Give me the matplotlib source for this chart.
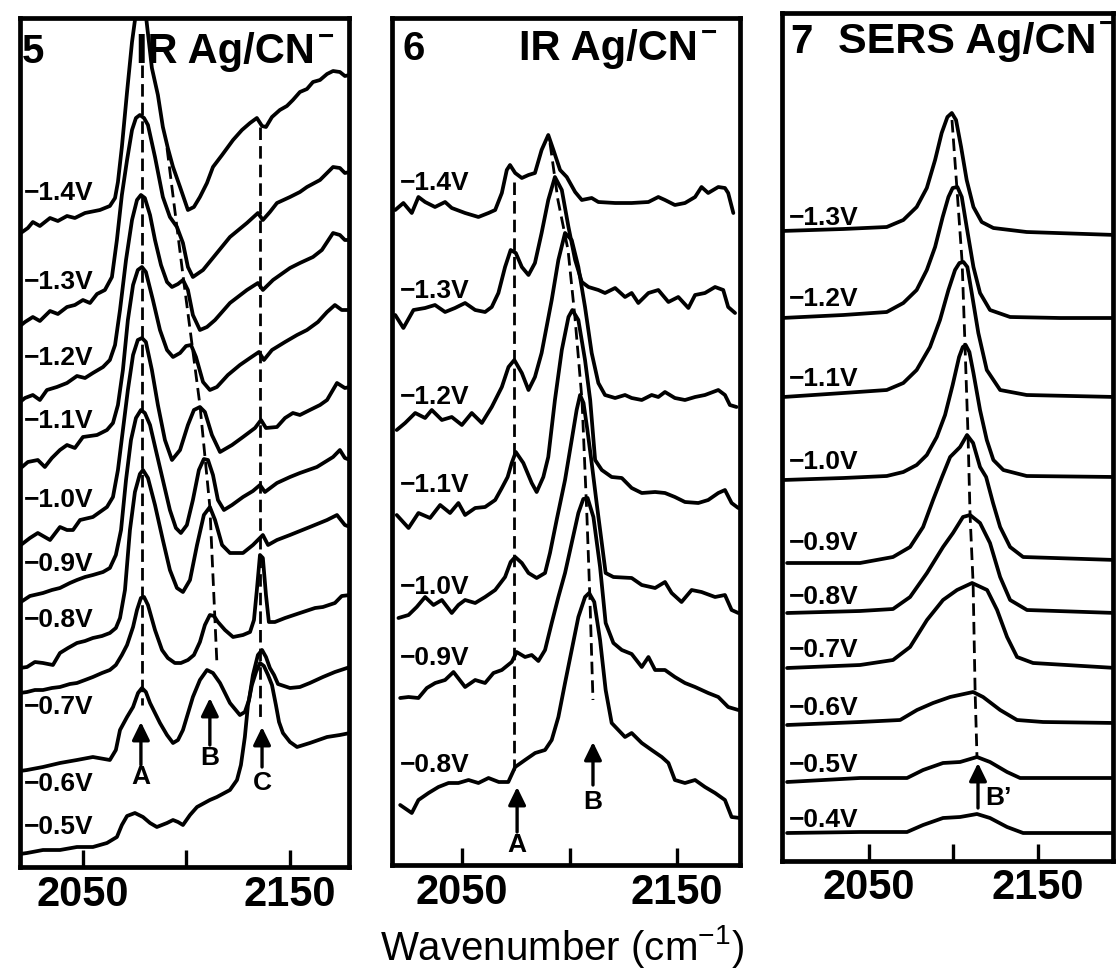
import matplotlib
matplotlib.use("Agg")
import matplotlib.pyplot as plt

plt.rcParams['font.family'] = ['Liberation Sans', 'DejaVu Sans']
plt.rcParams['mathtext.fontset'] = 'custom'
plt.rcParams['mathtext.rm'] = 'Liberation Sans'
plt.rcParams['mathtext.it'] = 'Liberation Sans:italic'
plt.rcParams['mathtext.bf'] = 'Liberation Sans:bold'

# ---------------- data (wavenumber cm-1, stacked intensity, arbitrary units) -------------
TICKS = [2050, 2100, 2150]
TICK_LABELS = ['2050', '', '2150']

# Panel 5: IR Ag/CN-
P5_VOLTS = ['−1.4V', '−1.3V', '−1.2V', '−1.1V', '−1.0V', '−0.9V', '−0.8V', '−0.7V', '−0.6V', '−0.5V']
P5_LABEL_H = [674, 585, 509, 446, 367, 303, 247, 160, 83, 40]
P5_M14 = [(2020.0,634),(2023.4,639),(2025.8,645),(2029.2,641),(2034.1,649),(2037.9,646),(2042.3,651),(2046.1,649),(2051.0,654),(2058.2,657),(2063.0,661),(2065.5,669),(2066.9,685),(2068.8,720),(2071.3,775),(2073.7,825),(2076.5,868),(2079.5,868),(2083.3,799),(2086.2,772),(2088.6,740),(2091.0,719),(2093.5,700),(2096.9,680),(2100.7,657),(2103.6,660),(2106.5,670),(2109.9,684),(2112.8,700),(2117.2,712),(2122.5,727),(2126.8,737),(2130.7,744),(2134.0,749),(2136.5,741),(2138.4,740),(2141.3,750),(2145.1,757),(2148.5,761),(2151.4,767),(2154.8,775),(2158.2,778),(2161.1,785),(2164.5,787),(2167.9,793),(2170.8,796),(2174.1,795),(2176.5,791),(2179.0,792)]
P5_M13 = [(2019.0,540),(2022.0,545),(2025.8,550),(2029.2,546),(2034.1,556),(2037.9,553),(2042.3,560),(2046.1,562),(2050.0,567),(2053.4,564),(2056.8,573),(2060.6,577),(2064.0,590),(2066.4,627),(2068.8,672),(2071.3,707),(2073.7,737),(2075.6,749),(2077.5,752),(2079.5,749),(2081.4,742),(2084.8,710),(2088.6,670),(2092.0,650),(2095.4,640),(2098.3,624),(2100.7,600),(2103.1,590),(2108.0,597),(2114.7,614),(2121.0,630),(2129.2,644),(2134.5,654),(2136.9,647),(2140.3,655),(2143.7,664),(2150.0,670),(2154.8,675),(2158.2,680),(2164.5,687),(2170.8,700),(2174.1,699),(2176.5,694),(2179.0,695)]
P5_M12 = [(2019.0,464),(2022.0,469),(2025.8,472),(2029.2,467),(2032.6,477),(2037.4,480),(2042.3,484),(2047.1,491),(2051.0,489),(2054.8,494),(2059.7,500),(2063.0,507),(2065.5,522),(2067.9,557),(2070.8,607),(2073.7,647),(2076.1,667),(2078.0,672),(2079.9,669),(2082.4,652),(2084.8,627),(2087.7,602),(2090.6,585),(2093.0,580),(2095.9,583),(2098.3,587),(2100.7,577),(2103.1,552),(2106.5,537),(2109.9,540),(2113.8,547),(2121.0,564),(2129.2,577),(2134.5,584),(2136.9,577),(2141.8,587),(2150.0,599),(2154.8,604),(2161.1,610),(2165.4,617),(2170.8,634),(2174.1,632),(2176.5,627),(2179.0,627)]
P5_M11 = [(2020.0,399),(2023.4,405),(2028.2,407),(2031.6,400),(2035.0,409),(2038.9,417),(2042.3,422),(2046.1,419),(2050.0,430),(2056.8,432),(2061.6,437),(2064.5,444),(2066.9,462),(2069.3,497),(2071.7,547),(2074.2,582),(2076.5,597),(2078.5,600),(2080.4,595),(2083.8,567),(2087.2,537),(2090.6,517),(2093.5,510),(2096.9,514),(2099.8,521),(2102.2,522),(2104.6,510),(2108.0,485),(2111.3,477),(2114.7,480),(2120.0,492),(2125.8,502),(2130.7,509),(2135.0,515),(2137.4,507),(2141.3,517),(2147.6,525),(2153.4,532),(2158.2,537),(2163.5,545),(2167.9,555),(2171.7,562),(2175.0,557),(2179.0,557)]
P5_M10 = [(2020.0,322),(2024.4,329),(2028.2,334),(2034.1,327),(2038.9,340),(2042.3,337),(2045.2,337),(2048.6,347),(2054.8,350),(2058.2,355),(2061.6,360),(2064.5,370),(2066.9,397),(2069.3,437),(2071.7,477),(2074.2,512),(2076.5,527),(2078.5,529),(2080.4,525),(2083.3,497),(2086.2,462),(2089.6,427),(2093.0,407),(2096.9,417),(2100.7,442),(2103.6,457),(2106.5,460),(2108.9,455),(2112.3,432),(2116.2,415),(2122.0,422),(2127.3,430),(2133.1,439),(2136.0,447),(2138.4,439),(2143.7,440),(2147.6,449),(2151.4,454),(2154.8,452),(2159.6,457),(2164.5,462),(2167.9,467),(2172.7,484),(2176.5,479),(2179.0,480)]
P5_M09 = [(2020.0,265),(2024.4,271),(2030.7,274),(2035.0,277),(2038.9,279),(2043.7,284),(2047.1,287),(2051.0,290),(2054.8,292),(2059.7,295),(2063.0,299),(2065.9,312),(2068.4,337),(2070.8,387),(2073.2,427),(2075.6,449),(2078.0,457),(2079.9,454),(2082.4,442),(2085.2,417),(2088.6,387),(2092.0,357),(2094.9,339),(2097.3,334),(2100.2,342),(2103.1,367),(2106.0,397),(2108.4,408),(2110.4,407),(2112.8,392),(2115.2,367),(2118.1,357),(2122.0,362),(2127.3,370),(2132.1,376),(2135.5,382),(2137.9,375),(2143.7,384),(2150.0,390),(2154.8,394),(2163.0,400),(2170.8,410),(2174.1,417),(2176.5,409),(2179.0,407)]
P5_M08 = [(2019.6,199),(2023.0,200),(2026.8,205),(2030.7,204),(2035.5,202),(2038.9,214),(2042.8,219),(2047.1,224),(2051.0,226),(2054.8,229),(2059.2,231),(2063.0,234),(2065.9,239),(2067.9,249),(2070.3,277),(2072.7,337),(2075.1,375),(2077.5,393),(2079.0,397),(2081.4,389),(2084.8,362),(2088.6,327),(2092.0,297),(2095.4,279),(2098.3,275),(2101.7,287),(2105.1,322),(2108.4,352),(2111.3,360),(2113.8,347),(2117.2,322),(2121.0,314),(2127.3,314),(2132.1,322),(2136.9,332),(2139.4,322),(2143.7,327),(2150.0,332),(2159.6,340),(2167.9,347),(2172.7,352),(2176.5,342),(2179.0,340)]
P5_M07 = [(2019.6,174),(2023.0,175),(2026.8,177),(2030.7,177),(2035.0,179),(2038.9,180),(2043.7,183),(2047.1,184),(2051.0,187),(2054.8,190),(2059.2,194),(2063.0,197),(2065.9,202),(2068.8,212),(2071.3,222),(2074.2,240),(2076.1,257),(2078.0,269),(2079.5,270),(2081.4,262),(2084.8,237),(2088.2,217),(2091.0,209),(2094.4,204),(2097.3,204),(2100.7,207),(2103.6,212),(2106.5,225),(2108.9,242),(2111.3,252),(2113.3,251),(2115.2,245),(2118.6,237),(2122.5,230),(2127.3,232),(2130.7,235),(2132.6,247),(2134.0,277),(2135.5,312),(2136.9,309),(2138.4,272),(2139.8,245),(2142.7,245),(2147.6,249),(2154.8,254),(2162.1,259),(2165.9,260),(2171.7,264),(2175.0,271),(2179.0,272)]
P5_M06 = [(2019.6,96),(2023.0,97),(2030.7,100),(2038.9,104),(2047.1,107),(2054.8,110),(2063.0,107),(2065.9,117),(2067.9,137),(2071.3,150),(2074.2,160),(2076.6,174),(2078.5,179),(2080.4,175),(2082.4,164),(2087.2,144),(2090.6,132),(2093.5,124),(2095.9,127),(2098.3,137),(2103.1,170),(2106.5,187),(2109.9,197),(2112.8,194),(2116.2,184),(2121.0,164),(2125.8,152),(2128.2,155),(2130.2,167),(2132.1,192),(2134.5,212),(2136.5,217),(2138.4,210),(2140.3,199),(2142.3,192),(2144.2,183),(2150.0,179),(2154.8,180),(2159.6,184),(2165.9,190),(2171.7,195),(2179.0,200)]
P5_M05 = [(2019.6,13),(2023.0,14),(2030.7,17),(2038.9,17),(2047.1,20),(2054.8,20),(2061.6,24),(2066.4,30),(2068.8,42),(2071.3,51),(2075.1,54),(2079.0,50),(2082.4,44),(2085.7,40),(2090.6,44),(2093.5,47),(2095.9,45),(2098.3,42),(2101.7,52),(2105.1,60),(2111.3,67),(2114.7,70),(2121.0,77),(2124.4,87),(2126.3,102),(2128.2,130),(2129.7,162),(2131.6,182),(2133.6,195),(2135.5,204),(2137.4,201),(2139.4,192),(2141.3,182),(2143.2,162),(2144.7,145),(2146.6,134),(2150.0,125),(2153.4,120),(2159.6,124),(2167.9,130),(2174.1,132),(2179.0,134)]
P5_TRACES = [P5_M14, P5_M13, P5_M12, P5_M11, P5_M10, P5_M09, P5_M08, P5_M07, P5_M06, P5_M05]
P5_PEAK_A_WN, P5_PEAK_A_H = [2078.3, 2078.3], [802, 162]
P5_PEAK_B_WN, P5_PEAK_B_H = [2090.6, 2098.3, 2106.5, 2111.3, 2114.7], [719, 592, 462, 360, 204]
P5_PEAK_C_WN, P5_PEAK_C_H = [2135.5, 2135.5], [740, 147]
P5_ARROWS = [('A', 2078.0, 145, 102, 90), ('B', 2111.3, 169, 122, 109), ('C', 2136.5, 140, 100, 84)]

# Panel 6: IR Ag/CN-
P6_VOLTS = ['−1.4V', '−1.3V', '−1.2V', '−1.1V', '−1.0V', '−0.9V', '−0.8V']
P6_LABEL_H = [682, 574, 468, 380, 278, 207, 100]
P6_M14 = [(2018.9,655),(2022.7,662),(2026.6,652),(2029.7,668),(2032.8,663),(2037.4,658),(2042.1,663),(2045.2,657),(2051.4,652),(2057.6,648),(2062.3,652),(2065.4,655),(2068.5,672),(2070.8,695),(2072.3,700),(2074.7,692),(2077.8,687),(2080.9,690),(2083.9,692),(2087.0,715),(2090.1,730),(2092.5,715),(2095.6,695),(2098.7,688),(2102.6,673),(2105.7,665),(2110.3,667),(2113.4,663),(2121.2,662),(2128.9,662),(2136.7,663),(2141.3,668),(2144.4,665),(2149.0,660),(2153.7,662),(2158.4,668),(2161.4,678),(2164.5,672),(2169.2,678),(2172.3,677),(2173.8,672),(2176.2,652)]
P6_M13 = [(2018.9,550),(2022.7,537),(2027.4,555),(2032.8,557),(2037.4,560),(2042.1,553),(2046.7,557),(2051.4,562),(2056.1,555),(2060.7,553),(2063.8,558),(2066.9,572),(2070.0,598),(2072.6,615),(2075.0,612),(2077.8,598),(2080.9,590),(2083.9,602),(2087.0,632),(2090.1,665),(2093.2,688),(2096.4,675),(2099.5,638),(2102.6,605),(2105.7,583),(2108.8,578),(2113.4,575),(2116.5,572),(2121.2,577),(2125.8,568),(2128.9,572),(2132.0,562),(2136.7,572),(2141.3,575),(2146.0,563),(2150.6,568),(2155.3,557),(2158.4,570),(2163.0,572),(2167.7,578),(2171.5,575),(2173.8,558),(2177.0,552)]
P6_M12 = [(2019.6,435),(2023.5,442),(2028.2,452),(2032.8,447),(2035.9,455),(2040.6,445),(2045.2,448),(2049.9,440),(2054.5,452),(2059.2,442),(2063.8,458),(2068.5,478),(2071.6,498),(2074.3,505),(2077.8,492),(2080.9,475),(2083.9,488),(2087.0,512),(2091.7,565),(2094.8,605),(2097.9,632),(2101.0,625),(2104.1,598),(2107.2,558),(2110.3,512),(2113.4,482),(2116.5,470),(2121.2,467),(2125.8,470),(2128.9,467),(2133.6,465),(2138.2,470),(2141.3,468),(2144.4,473),(2149.0,467),(2153.7,465),(2158.4,468),(2163.0,470),(2169.2,475),(2172.3,470),(2174.6,460),(2177.7,458)]
P6_M11 = [(2019.6,350),(2025.1,337),(2029.7,352),(2035.1,347),(2039.8,360),(2044.4,352),(2048.3,362),(2051.4,350),(2056.1,357),(2060.7,358),(2065.4,365),(2068.5,377),(2071.2,388),(2073.1,402),(2075.0,413),(2078.5,402),(2082.4,382),(2084.7,373),(2087.8,388),(2090.1,408),(2093.2,465),(2096.4,515),(2099.5,548),(2101.3,555),(2104.1,545),(2107.2,505),(2109.6,465),(2111.9,405),(2115.0,395),(2119.6,388),(2124.3,387),(2128.9,377),(2133.6,372),(2139.8,373),(2144.4,372),(2149.0,368),(2153.7,363),(2159.9,362),(2164.5,365),(2169.2,372),(2172.3,375),(2175.4,362),(2178.5,357)]
P6_M10 = [(2020.4,247),(2025.1,250),(2028.9,258),(2032.8,268),(2036.7,260),(2040.6,265),(2045.2,252),(2048.3,260),(2051.4,265),(2056.1,262),(2060.7,268),(2065.4,275),(2070.0,288),(2072.6,303),(2074.7,308),(2077.8,302),(2080.9,292),(2084.7,287),(2088.6,292),(2090.9,312),(2094.0,345),(2097.9,385),(2101.0,425),(2103.3,455),(2104.9,470),(2106.5,462),(2108.3,435),(2110.3,402),(2112.6,362),(2115.0,322),(2116.8,292),(2120.4,288),(2128.9,287),(2133.6,280),(2139.8,277),(2144.4,283),(2147.5,272),(2152.1,263),(2156.8,275),(2161.4,273),(2167.7,268),(2172.3,270),(2175.4,255),(2178.5,252)]
P6_M09 = [(2021.2,167),(2025.1,168),(2029.7,167),(2033.6,177),(2037.5,182),(2042.1,185),(2046.0,193),(2051.4,178),(2056.1,185),(2060.7,182),(2064.6,192),(2068.5,195),(2073.1,203),(2075.4,213),(2079.3,208),(2082.4,210),(2085.5,204),(2088.6,215),(2091.7,242),(2094.8,268),(2097.9,292),(2101.0,322),(2104.1,352),(2106.4,366),(2108.4,367),(2111.1,348),(2114.2,298),(2116.8,242),(2120.4,222),(2124.3,215),(2128.9,211),(2133.6,198),(2136.7,208),(2139.8,195),(2144.4,195),(2149.0,188),(2153.7,182),(2158.4,178),(2164.5,172),(2169.2,168),(2173.8,158),(2178.5,155)]
P6_M08 = [(2021.2,60),(2026.6,52),(2029.7,65),(2034.4,72),(2039.0,78),(2043.7,82),(2048.3,82),(2053.0,85),(2057.6,82),(2062.3,87),(2067.1,83),(2071.5,83),(2074.7,98),(2079.3,105),(2084.0,112),(2088.6,115),(2091.7,125),(2094.8,148),(2097.9,182),(2101.0,215),(2104.1,248),(2107.2,268),(2109.1,272),(2111.5,263),(2114.2,225),(2116.8,175),(2119.6,142),(2122.7,135),(2125.8,128),(2128.9,132),(2133.6,122),(2138.2,115),(2142.9,108),(2146.0,102),(2149.0,85),(2153.7,82),(2158.4,85),(2163.0,78),(2167.7,72),(2172.3,65),(2175.4,48),(2179.3,47)]
P6_TRACES = [P6_M14, P6_M13, P6_M12, P6_M11, P6_M10, P6_M09, P6_M08]
P6_PEAK_A_WN, P6_PEAK_A_H = [2074.2, 2074.2], [683, 95]
P6_PEAK_B_WN = [2090.9, 2094.6, 2099.3, 2102.5, 2105.8, 2108.1, 2109.5, 2110.9]
P6_PEAK_B_H = [722, 665, 615, 548, 465, 348, 265, 165]
P6_ARROWS = [('A', 2075.6, 78, 33, 20), ('B', 2110.9, 123, 80, 63)]

# Panel 7: SERS Ag/CN-
P7_VOLTS = ['−1.3V', '−1.2V', '−1.1V', '−1.0V', '−0.9V', '−0.8V', '−0.7V', '−0.6V', '−0.5V', '−0.4V']
P7_LABEL_H = [643, 562, 482, 399, 318, 264, 211, 153, 96, 41]
P7_M13 = [(1998.3,630),(2034.8,632),(2060.5,634),(2070.3,641),(2078.2,654),(2084.2,673),(2089.1,701),(2093.0,728),(2096.4,744),(2099.0,748),(2101.5,741),(2104.5,714),(2107.8,681),(2111.8,654),(2116.7,639),(2123.6,633),(2143.3,629),(2196.2,626)]
P7_M12 = [(1998.3,543),(2034.8,546),(2060.5,549),(2070.3,558),(2078.2,571),(2084.2,591),(2089.1,614),(2093.6,644),(2097.0,664),(2099.5,673),(2102.3,674),(2104.9,664),(2107.8,634),(2111.8,594),(2115.7,568),(2121.6,551),(2133.5,544),(2163.1,543),(2196.2,543)]
P7_M11 = [(1999.3,464),(2034.8,468),(2060.5,471),(2070.3,478),(2078.2,491),(2086.1,514),(2092.0,541),(2097.0,571),(2100.9,591),(2103.5,598),(2105.9,599),(2108.2,594),(2110.8,568),(2114.7,528),(2119.7,491),(2127.6,471),(2143.3,466),(2196.2,464)]
P7_M10 = [(1999.3,381),(2034.8,383),(2060.5,385),(2070.3,389),(2078.2,396),(2084.2,406),(2090.1,424),(2095.0,446),(2099.5,476),(2103.3,504),(2105.5,514),(2107.2,516),(2109.4,509),(2111.8,488),(2115.7,451),(2119.7,421),(2123.6,401),(2129.5,391),(2143.3,385),(2196.2,384)]
P7_M09 = [(2001.5,298),(2044.7,298),(2064.2,304),(2074.3,314),(2082.0,334),(2087.9,361),(2093.2,384),(2098.0,404),(2103.9,414),(2108.0,426),(2111.6,418),(2115.7,394),(2119.3,384),(2123.4,358),(2127.6,334),(2133.5,314),(2141.2,304),(2196.2,301)]
P7_M08 = [(2001.5,248),(2044.7,250),(2064.2,252),(2074.3,264),(2084.3,288),(2093.8,314),(2099.7,328),(2105.6,344),(2109.8,346),(2115.7,338),(2121.6,318),(2127.6,284),(2133.5,261),(2143.5,251),(2196.2,248)]
P7_M07 = [(2001.5,193),(2044.7,196),(2064.2,201),(2074.3,214),(2084.3,241),(2093.8,261),(2102.1,271),(2111.0,278),(2119.9,271),(2125.8,251),(2131.7,224),(2137.6,204),(2147.1,198),(2196.2,193)]
P7_M06 = [(2001.5,136),(2044.7,139),(2068.4,141),(2078.4,151),(2087.9,158),(2098.0,164),(2111.6,169),(2117.5,164),(2127.6,151),(2137.6,141),(2153.0,139),(2196.2,138)]
P7_M05 = [(2001.5,79),(2044.7,83),(2072.5,83),(2082.0,91),(2093.8,98),(2103.9,99),(2113.9,104),(2121.6,99),(2131.7,89),(2139.4,83),(2196.2,83)]
P7_M04 = [(2001.5,28),(2044.7,29),(2072.5,29),(2082.0,36),(2093.8,43),(2103.9,44),(2113.9,47),(2121.6,43),(2131.7,34),(2141.2,28),(2196.2,28)]
P7_TRACES = [P7_M13, P7_M12, P7_M11, P7_M10, P7_M09, P7_M08, P7_M07, P7_M06, P7_M05, P7_M04]
P7_PEAK_WN = [2099.1, 2102.1, 2105.1, 2106.8, 2108.6, 2109.8, 2111.6, 2112.8, 2113.9]
P7_PEAK_H = [741, 671, 599, 516, 426, 346, 278, 169, 104]
P7_ARROWS = [('B’', 2114.5, 98, 53, 63)]

# ---------------- figure ----------------
W, H = 1116, 973
fig = plt.figure(figsize=(W / 100, H / 100), dpi=100)


def px_axes(l, r, t, b):
    return fig.add_axes([l / W, 1 - b / H, (r - l) / W, (b - t) / H])


def ftext(x, y, s, **kw):
    fig.text(x / W, 1 - y / H, s, **kw)


def style(ax, xlim, ylim, pad):
    ax.set_xlim(*xlim)
    ax.set_ylim(*ylim)
    ax.set_yticks([])
    ax.set_xticks(TICKS)
    ax.set_xticklabels(TICK_LABELS, fontsize=30, fontweight='bold')
    ax.tick_params(axis='x', direction='in', length=12, width=2.4, pad=pad)
    for s in ax.spines.values():
        s.set_linewidth(3.4)


def draw_traces(ax, traces):
    for tr in traces:
        xs = [p[0] for p in tr]
        ys = [p[1] for p in tr]
        ax.plot(xs, ys, color='k', lw=2.7, solid_joinstyle='round', solid_capstyle='round')


def dashed(ax, xs, ys):
    ax.plot(xs, ys, color='k', lw=2.0, ls=(0, (4.5, 2.2)))


def labels(ax, x, volts, hs):
    for v, h in zip(volts, hs):
        ax.text(x, h, v, fontsize=19, fontweight='bold', ha='left', va='center')


def arrows(ax, arr, dx_label=0.0, ha='center'):
    for lab, x, tip, tail, lh in arr:
        ax.annotate('', xy=(x, tip), xytext=(x, tail),
                    arrowprops=dict(arrowstyle='-|>,head_length=0.45,head_width=0.22',
                                    lw=2.4, color='k', mutation_scale=24,
                                    shrinkA=0, shrinkB=0))
        ax.text(x + dx_label, lh, lab, fontsize=19, fontweight='bold', ha=ha, va='center')


# Panel 5
ax5 = px_axes(20, 349, 18, 867)
style(ax5, (2019.6, 2178.5), (0, 849), 6)
draw_traces(ax5, P5_TRACES)
dashed(ax5, P5_PEAK_A_WN, P5_PEAK_A_H)
dashed(ax5, P5_PEAK_B_WN, P5_PEAK_B_H)
dashed(ax5, P5_PEAK_C_WN, P5_PEAK_C_H)
labels(ax5, 2021.5, P5_VOLTS, P5_LABEL_H)
arrows(ax5, P5_ARROWS)

# Panel 6
ax6 = px_axes(392, 740, 18, 865)
style(ax6, (2017.4, 2179.3), (0, 847), 6)
draw_traces(ax6, P6_TRACES)
dashed(ax6, P6_PEAK_A_WN, P6_PEAK_A_H)
dashed(ax6, P6_PEAK_B_WN, P6_PEAK_B_H)
labels(ax6, 2021.2, P6_VOLTS, P6_LABEL_H)
arrows(ax6, P6_ARROWS)

# Panel 7
ax7 = px_axes(782, 1113, 13, 861)
style(ax7, (1998.5, 2194.4), (0, 848), 5)
draw_traces(ax7, P7_TRACES)
dashed(ax7, P7_PEAK_WN, P7_PEAK_H)
labels(ax7, 2002.6, P7_VOLTS, P7_LABEL_H)
arrows(ax7, P7_ARROWS, dx_label=4.5, ha='left')

# Titles
ftext(22, 63, '5', fontsize=29, fontweight='bold', ha='left', va='baseline')
ftext(315, 63, 'IR Ag/CN', fontsize=30, fontweight='bold', ha='right', va='baseline')
ftext(318, 38, '−', fontsize=20, fontweight='bold', ha='left', va='center')

ftext(403, 60, '6', fontsize=29, fontweight='bold', ha='left', va='baseline')
ftext(698, 60, 'IR Ag/CN', fontsize=30, fontweight='bold', ha='right', va='baseline')
ftext(701, 34, '−', fontsize=20, fontweight='bold', ha='left', va='center')

ftext(790, 53, '7', fontsize=29, fontweight='bold', ha='left', va='baseline')
ftext(1097, 53, 'SERS Ag/CN', fontsize=31, fontweight='bold', ha='right', va='baseline')
ftext(1099, 25, '−', fontsize=20, fontweight='bold', ha='left', va='center')

ftext(562, 960, r'Wavenumber (cm$^{-1}$)', fontsize=29, ha='center', va='baseline')

fig.savefig('out.png', dpi=100)
